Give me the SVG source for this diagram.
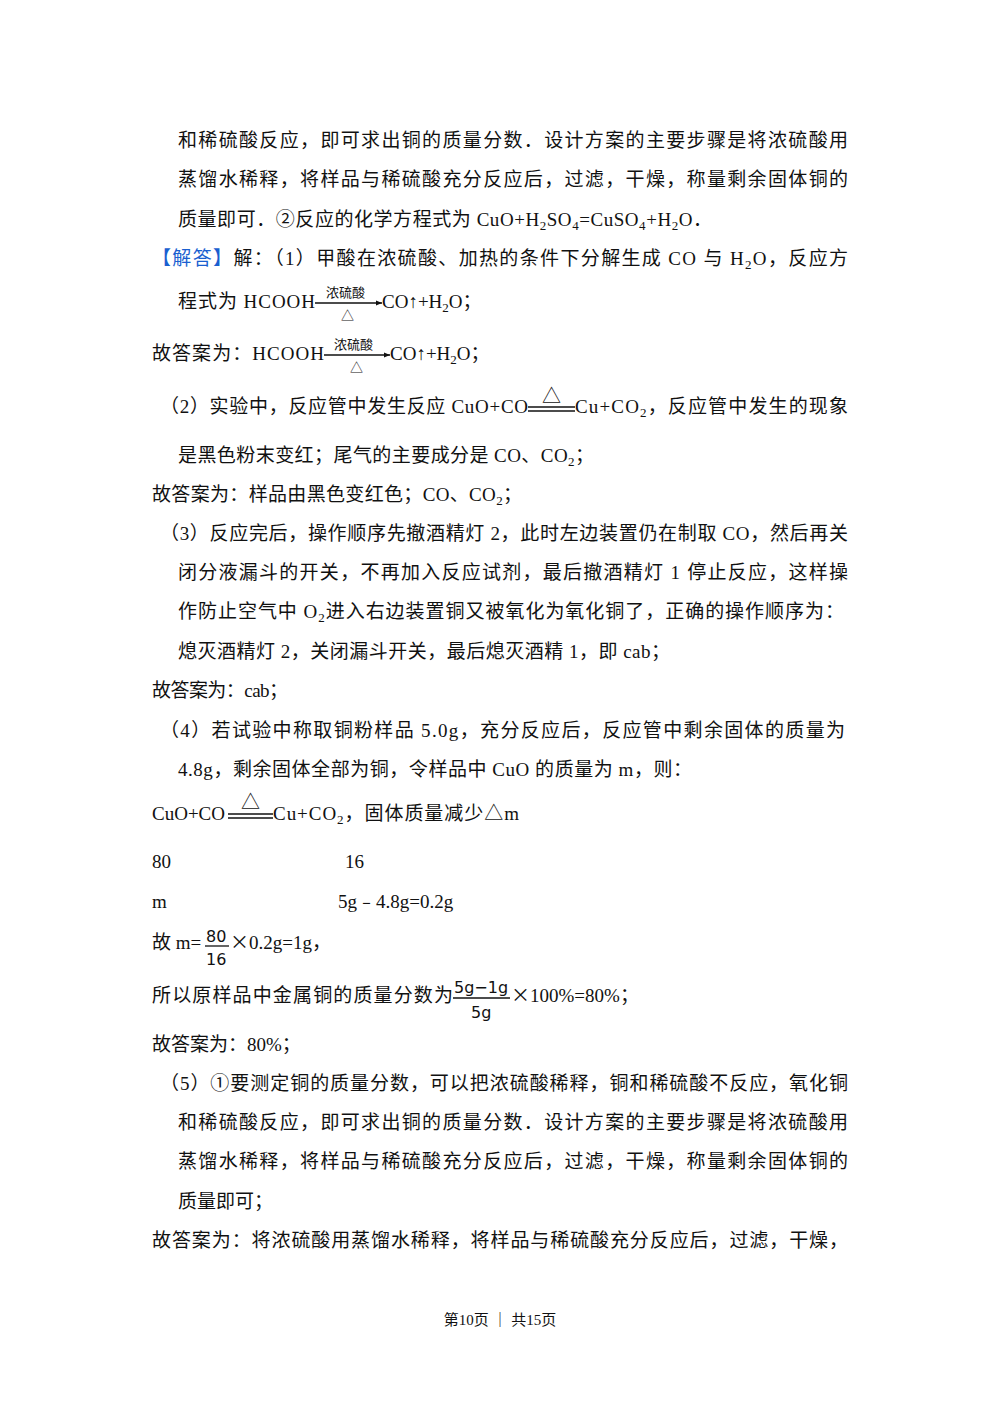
<svg xmlns="http://www.w3.org/2000/svg" width="1000" height="1414" viewBox="0 0 1000 1414">
<style>
text{font-family:"Liberation Serif","Noto Sans CJK SC",serif;font-size:19px;fill:#111}
.s{font-size:13px}
.f{font-family:"DejaVu Sans","Noto Sans CJK SC",sans-serif;font-size:16px}
.sm{font-family:"Noto Sans CJK SC",sans-serif;font-size:13px}
.x{font-family:"Noto Sans CJK SC",sans-serif}
.b{fill:#1a5fd0}
line{stroke:#111;stroke-width:1.3}
.ft{font-size:15px}
</style>
<defs><marker id="a" markerWidth="6" markerHeight="6" refX="5" refY="3" orient="auto"><path d="M0,1 L5,3 L0,5z" fill="#111"/></marker></defs>
<rect width="1000" height="1414" fill="#fff"/>
<g id="body">
<text x="178" y="147" textLength="670" lengthAdjust="spacing">和稀硫酸反应，即可求出铜的质量分数．设计方案的主要步骤是将浓硫酸用</text>
<text x="178" y="186" textLength="670" lengthAdjust="spacing">蒸馏水稀释，将样品与稀硫酸充分反应后，过滤，干燥，称量剩余固体铜的</text>
<text x="178" y="226" textLength="534" lengthAdjust="spacing">质量即可．②反应的化学方程式为 CuO+H<tspan class="s" dy="4">2</tspan><tspan dy="-4">SO</tspan><tspan class="s" dy="4">4</tspan><tspan dy="-4">=CuSO</tspan><tspan class="s" dy="4">4</tspan><tspan dy="-4">+H</tspan><tspan class="s" dy="4">2</tspan><tspan dy="-4">O．</tspan></text>
<text x="152" y="265" textLength="696" lengthAdjust="spacing"><tspan class="b">【解答】</tspan>解：（1）甲酸在浓硫酸、加热的条件下分解生成 CO 与 H<tspan class="s" dy="4">2</tspan><tspan dy="-4">O，反应方</tspan></text>
<text x="178" y="308" textLength="137" lengthAdjust="spacing">程式为 HCOOH</text>
<line x1="315" y1="303" x2="382" y2="303" marker-end="url(#a)"/>
<text class="sm" x="326" y="297">浓硫酸</text>
<text class="sm" x="341" y="320">△</text>
<text x="382" y="308">CO↑+H<tspan class="s" dy="4">2</tspan><tspan dy="-4">O；</tspan></text>
<text x="152" y="360" textLength="172" lengthAdjust="spacing">故答案为：HCOOH</text>
<line x1="324" y1="355" x2="390" y2="355" marker-end="url(#a)"/>
<text class="sm" x="334" y="349">浓硫酸</text>
<text class="sm" x="350" y="372">△</text>
<text x="390" y="360">CO↑+H<tspan class="s" dy="4">2</tspan><tspan dy="-4">O；</tspan></text>
<text x="160" y="413" textLength="368" lengthAdjust="spacing">（2）实验中，反应管中发生反应 CuO+CO</text>
<line x1="528" y1="407" x2="575" y2="407"/><line x1="528" y1="411" x2="575" y2="411"/>
<text x="542" y="403" font-size="17">△</text>
<text x="575" y="413" textLength="273" lengthAdjust="spacing">Cu+CO<tspan class="s" dy="4">2</tspan><tspan dy="-4">，反应管中发生的现象</tspan></text>
<text x="178" y="462" textLength="416" lengthAdjust="spacing">是黑色粉末变红；尾气的主要成分是 CO、CO<tspan class="s" dy="4">2</tspan><tspan dy="-4">；</tspan></text>
<text x="152" y="501" textLength="370" lengthAdjust="spacing">故答案为：样品由黑色变红色；CO、CO<tspan class="s" dy="4">2</tspan><tspan dy="-4">；</tspan></text>
<text x="160" y="540" textLength="688" lengthAdjust="spacing">（3）反应完后，操作顺序先撤酒精灯 2，此时左边装置仍在制取 CO，然后再关</text>
<text x="178" y="579" textLength="670" lengthAdjust="spacing">闭分液漏斗的开关，不再加入反应试剂，最后撤酒精灯 1 停止反应，这样操</text>
<text x="178" y="618" textLength="666" lengthAdjust="spacing">作防止空气中 O<tspan class="s" dy="4">2</tspan><tspan dy="-4">进入右边装置铜又被氧化为氧化铜了，正确的操作顺序为：</tspan></text>
<text x="178" y="658" textLength="492" lengthAdjust="spacing">熄灭酒精灯 2，关闭漏斗开关，最后熄灭酒精 1，即 cab；</text>
<text x="152" y="697" textLength="136" lengthAdjust="spacing">故答案为：cab；</text>
<text x="160" y="737" textLength="685" lengthAdjust="spacing">（4）若试验中称取铜粉样品 5.0g，充分反应后，反应管中剩余固体的质量为</text>
<text x="178" y="776" textLength="514" lengthAdjust="spacing">4.8g，剩余固体全部为铜，令样品中 CuO 的质量为 m，则：</text>
<text x="152" y="820">CuO+CO</text>
<line x1="228" y1="814" x2="273" y2="814"/><line x1="228" y1="818" x2="273" y2="818"/>
<text x="241" y="809" font-size="17">△</text>
<text x="273" y="820" textLength="246" lengthAdjust="spacing">Cu+CO<tspan class="s" dy="4">2</tspan><tspan dy="-4">，固体质量减少△m</tspan></text>
<text x="152" y="868">80</text><text x="345" y="868">16</text>
<text x="152" y="908">m</text><text x="338" y="908">5g﹣4.8g=0.2g</text>
<text x="152" y="949">故 m=</text>
<text class="f" x="206" y="942">80</text>
<line x1="205" y1="946" x2="229" y2="946" stroke-width="1"/>
<text class="f" x="206" y="965">16</text>
<text x="230" y="949"><tspan class="x">×</tspan>0.2g=1g，</text>
<text x="152" y="1002" textLength="301" lengthAdjust="spacing">所以原样品中金属铜的质量分数为</text>
<text class="f" x="454" y="993">5g−1g</text>
<line x1="453" y1="998" x2="510" y2="998" stroke-width="1"/>
<text class="f" x="471" y="1018">5g</text>
<text x="511" y="1002"><tspan class="x">×</tspan>100%=80%；</text>
<text x="152" y="1051">故答案为：80%；</text>
<text x="160" y="1090" textLength="688" lengthAdjust="spacing">（5）①要测定铜的质量分数，可以把浓硫酸稀释，铜和稀硫酸不反应，氧化铜</text>
<text x="178" y="1129" textLength="670" lengthAdjust="spacing">和稀硫酸反应，即可求出铜的质量分数．设计方案的主要步骤是将浓硫酸用</text>
<text x="178" y="1168" textLength="670" lengthAdjust="spacing">蒸馏水稀释，将样品与稀硫酸充分反应后，过滤，干燥，称量剩余固体铜的</text>
<text x="178" y="1208">质量即可；</text>
<text x="152" y="1247" textLength="696" lengthAdjust="spacing">故答案为：将浓硫酸用蒸馏水稀释，将样品与稀硫酸充分反应后，过滤，干燥，</text>
<text class="ft" x="500" y="1325" text-anchor="middle">第10页 ｜ 共15页</text>
</g>
</svg>
